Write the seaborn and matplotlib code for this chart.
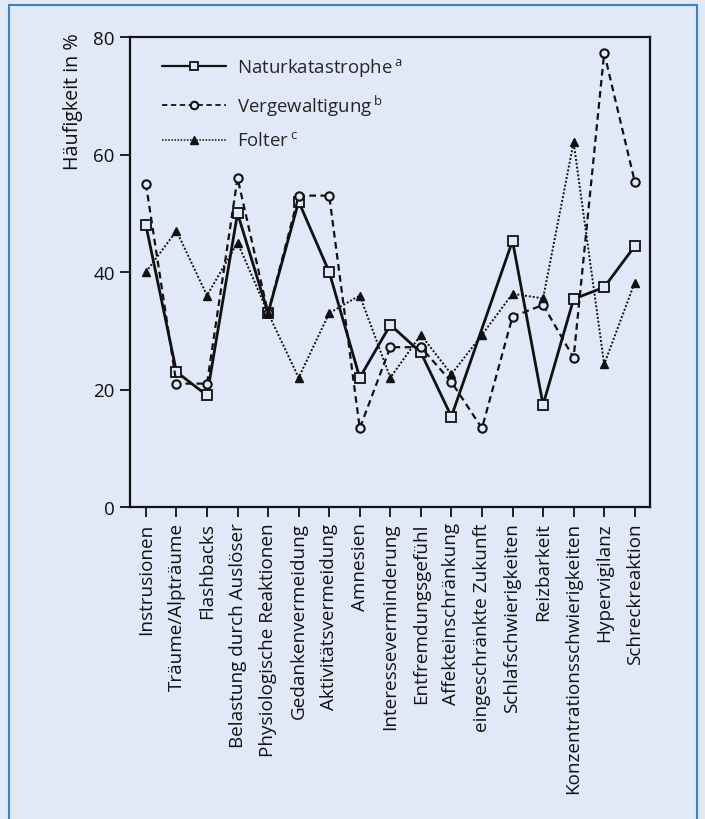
import numpy as np
import pandas as pd
import matplotlib
matplotlib.use("Agg")
import matplotlib.pyplot as plt
import seaborn as sns
from matplotlib.patches import Rectangle
from matplotlib.lines import Line2D

categories = ["Instrusionen", "Träume/Alpträume", "Flashbacks", "Belastung durch Auslöser",
              "Physiologische Reaktionen", "Gedankenvermeidung", "Aktivitätsvermeidung",
              "Amnesien", "Interesseverminderung", "Entfremdungsgefühl", "Affekteinschränkung",
              "eingeschränkte Zukunft", "Schlafschwierigkeiten", "Reizbarkeit",
              "Konzentrationsschwierigkeiten", "Hypervigilanz", "Schreckreaktion"]
natur = [48, 23, 19, 50, 33, 52, 40, 22, 31, 26.3, 15.4, np.nan, 45.3, 17.4, 35.4, 37.4, 44.4]
vergew = [55, 21, 21, 56, 33, 53, 53, 13.4, 27.2, 27.2, 21.3, 13.4, 32.4, 34.4, 25.4, 77.3, 55.4]
folter = [40, 47, 36, 45, 33, 22, 33, 36, 22, 29.3, 22.6, 29.3, 36.3, 35.5, 62.1, 24.3, 38.2]
series_names = ["Naturkatastrophe", "Vergewaltigung", "Folter"]
superscripts = ["a", "b", "c"]
yticks = [0, 20, 40, 60, 80]

BG = "#E1E8F7"
sns.set_style("white")
plt.rcParams["font.family"] = ["Open Sans", "DejaVu Sans"]
plt.rcParams["mathtext.fontset"] = "custom"
plt.rcParams["mathtext.rm"] = "Open Sans"

rows = []
for name, vals in zip(series_names, [natur, vergew, folter]):
    for i, v in enumerate(vals):
        rows.append({"idx": i, "value": v, "series": name})
df = pd.DataFrame(rows).dropna()

fig = plt.figure(figsize=(7.05, 8.2), dpi=100, facecolor=BG)
ax = fig.add_axes([130/705, 1-508/820, 520/705, 470/820])
ax.set_facecolor(BG)

styles = {
    "Naturkatastrophe": dict(ls="-", lw=2.0, marker="s", ms=7, mfc=BG, mec="#111111", mew=1.3),
    "Vergewaltigung": dict(ls=(0, (3, 2)), lw=1.6, marker="o", ms=6, mfc=BG, mec="#111111", mew=1.5),
    "Folter": dict(ls=(0, (1, 1)), lw=1.4, marker="^", ms=6, mfc="#111111", mec="#111111", mew=1.0),
}
for name in series_names:
    st = styles[name]
    sub = df[df["series"] == name]
    sns.lineplot(data=sub, x="idx", y="value", ax=ax, color="#111111", sort=False,
                 linestyle=st["ls"], linewidth=st["lw"], marker=st["marker"],
                 markersize=st["ms"], markerfacecolor=st["mfc"],
                 markeredgecolor=st["mec"], markeredgewidth=st["mew"], legend=False)

ax.set_xlim(-0.52, 16.5)
ax.set_ylim(0, 80)
ax.set_yticks(yticks)
ax.set_yticklabels([str(t) for t in yticks], fontsize=13.5)
ax.set_xticks(range(len(categories)))
ax.set_xticklabels(categories, rotation=90, fontsize=13.6)
ax.tick_params(axis="both", direction="out", length=7, width=1.3, color="#111111",
               labelcolor="#111111", pad=4, bottom=True, left=True)
for s in ax.spines.values():
    s.set_visible(True)
    s.set_color("#111111")
    s.set_linewidth(1.6)
ax.set_xlabel("")
ax.set_ylabel("Häufigkeit in %", fontsize=14.2, color="#111111", loc="top")
ax.yaxis.set_label_coords(-0.09, (508 - 33) / 470)

handles = []
labels = []
for name, sup in zip(series_names, superscripts):
    st = styles[name]
    handles.append(Line2D([], [], color="#111111", linestyle=st["ls"], linewidth=st["lw"] * 0.8,
                          marker=st["marker"], markersize=st["ms"], markerfacecolor=st["mfc"],
                          markeredgecolor=st["mec"], markeredgewidth=st["mew"]))
    labels.append(name + r"$\,^{\mathrm{" + sup + "}}$")
ax.legend(handles, labels, loc="upper left", bbox_to_anchor=(0.03, 0.995), frameon=False,
          fontsize=13.4, handlelength=3.4, handletextpad=0.6, labelspacing=0.72, markerscale=0.9)

fig.patches.append(Rectangle((9/705, -0.05), (697-9)/705, 1.05 - 6/820 + 0.0,
                             transform=fig.transFigure, fill=False, edgecolor="#3C82C4",
                             linewidth=1.5, zorder=0))

fig.savefig("out.png", dpi=100, facecolor=BG)
